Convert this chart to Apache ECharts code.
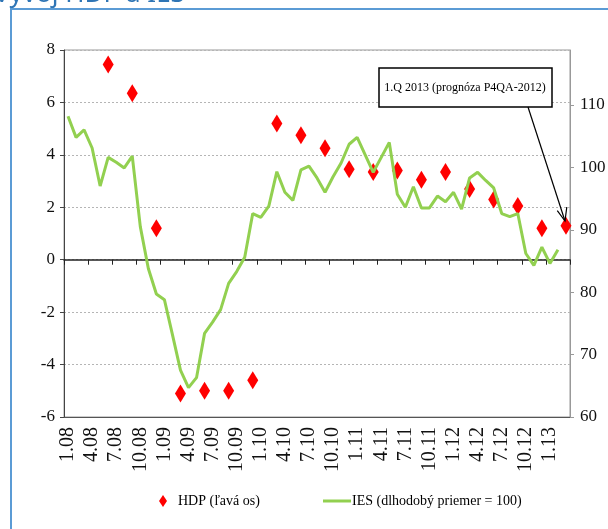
<!DOCTYPE html>
<html>
<head>
<meta charset="utf-8">
<title>Vývoj HDP a IES</title>
<script src="https://cdn.jsdelivr.net/npm/echarts@6/dist/echarts.min.js"></script>
<style>
  html, body { margin: 0; padding: 0; background: #fff; }
  #chart { width: 608px; height: 529px; }
</style>
</head>
<body>
<div id="chart"></div>
<script>
// mesiace 1.08 .. 3.13 (kategórie osi x)
const months = [
  '1.08', '2.08', '3.08', '4.08', '5.08', '6.08', '7.08', '8.08', '9.08', '10.08', '11.08', '12.08',
  '1.09', '2.09', '3.09', '4.09', '5.09', '6.09', '7.09', '8.09', '9.09', '10.09', '11.09', '12.09',
  '1.10', '2.10', '3.10', '4.10', '5.10', '6.10', '7.10', '8.10', '9.10', '10.10', '11.10', '12.10',
  '1.11', '2.11', '3.11', '4.11', '5.11', '6.11', '7.11', '8.11', '9.11', '10.11', '11.11', '12.11',
  '1.12', '2.12', '3.12', '4.12', '5.12', '6.12', '7.12', '8.12', '9.12', '10.12', '11.12', '12.12',
  '1.13', '2.13', '3.13'
]

// IES (dlhodobý priemer = 100), mesačne, pravá os
const ies = [
  108.2, 104.8, 106.0, 103.1, 97.0, 101.6, 100.8, 99.9, 101.8, 90.5, 83.8, 79.7,
  78.8, 73.2, 67.5, 64.7, 66.3, 73.4, 75.2, 77.2, 81.4, 83.3, 85.6, 92.6,
  92.0, 93.8, 99.3, 96.0, 94.7, 99.6, 100.2, 98.3, 96.0, 98.5, 100.7, 103.7,
  104.8, 102.0, 99.2, 101.6, 104.0, 95.7, 93.6, 96.9, 93.5, 93.5, 95.4, 94.5,
  96.0, 93.3, 98.3, 99.2, 97.9, 96.7, 92.6, 92.1, 92.6, 86.2, 84.3, 87.2,
  84.6, 86.8, null
]

// HDP (ľavá os), štvrťročne - bod v poslednom mesiaci štvrťroka
const quarterMonths = [
  '3.08', '6.08', '9.08', '12.08', '3.09', '6.09', '9.09', '12.09', '3.10', '6.10', '9.10',
  '12.10', '3.11', '6.11', '9.11', '12.11', '3.12', '6.12', '9.12', '12.12', '3.13'
]
const hdp = [
  null, 7.45, 6.35, 1.2, -5.1, -5.0, -5.0, -4.6, 5.2, 4.75, 4.25,
  3.45, 3.35, 3.4, 3.05, 3.35, 2.7, 2.3, 2.05, 1.2, 1.3
]

const leftTicks = [-6, 8, 2]     // min, max, interval
const rightTicks = [60, 118.8, 10]

const serif = "'Liberation Serif', 'Times New Roman', serif"

const hdpData = []
quarterMonths.forEach((m, i) => {
  if (hdp[i] !== null) hdpData.push([m, hdp[i]])
})

const chart = echarts.init(document.getElementById('chart'), null, { renderer: 'canvas' })

const option = {
  animation: false,
  backgroundColor: '#fff',
  grid: {
    left: 64,
    right: 38,
    top: 50,
    bottom: 112,
    show: true,
    borderColor: '#999',
    borderWidth: 1,
    outerBoundsMode: 'none'
  },
  legend: [
    {
      data: [{ name: 'HDP (ľavá os)', icon: 'diamond' }],
      left: 154,
      top: 489,
      itemWidth: 8,
      itemHeight: 12,
      itemGap: 0,
      symbolKeepAspect: false,
      textStyle: { fontFamily: serif, fontSize: 14, color: '#000', padding: [0, 0, 0, 6] }
    },
    {
      data: [{ name: 'IES (dlhodobý priemer = 100)', icon: 'rect' }],
      left: 318,
      top: 489,
      itemWidth: 28,
      itemHeight: 3,
      itemGap: 0,
      textStyle: { fontFamily: serif, fontSize: 14, color: '#000', padding: [0, 0, 0, -4] }
    }
  ],
  xAxis: [
    {
      // os v nule - čiara a značky
      type: 'category',
      data: months,
      boundaryGap: true,
      axisLine: { onZero: true, onZeroAxisIndex: 0, lineStyle: { color: '#222', width: 1.5 } },
      axisTick: { show: true, interval: 2, length: 5, inside: false, lineStyle: { color: '#222' } },
      axisLabel: { show: false },
      splitLine: { show: false }
    },
    {
      // popisy dole
      type: 'category',
      data: months,
      position: 'bottom',
      boundaryGap: true,
      axisLine: { onZero: false, lineStyle: { color: '#555', width: 1 } },
      axisTick: { show: false },
      axisLabel: {
        interval: 2,
        rotate: 90,
        margin: 10,
        fontFamily: serif,
        fontSize: 20,
        color: '#111'
      },
      splitLine: { show: false }
    }
  ],
  yAxis: [
    {
      type: 'value',
      min: leftTicks[0],
      max: leftTicks[1],
      interval: leftTicks[2],
      axisLine: { show: true, lineStyle: { color: '#444' } },
      axisTick: { show: true, length: 4, lineStyle: { color: '#444' } },
      axisLabel: { margin: 9, fontFamily: serif, fontSize: 17, color: '#111' },
      splitLine: { show: true, lineStyle: { color: '#b5b5b5', type: [2, 2], width: 1 } }
    },
    {
      type: 'value',
      position: 'right',
      min: rightTicks[0],
      max: rightTicks[1],
      interval: rightTicks[2],
      axisLine: { show: true, lineStyle: { color: '#999' } },
      axisTick: { show: true, length: 4, lineStyle: { color: '#999' } },
      axisLabel: { margin: 10, showMaxLabel: false, fontFamily: serif, fontSize: 17, color: '#111' },
      splitLine: { show: false }
    }
  ],
  series: [
    {
      name: 'HDP (ľavá os)',
      type: 'scatter',
      xAxisIndex: 0,
      yAxisIndex: 0,
      symbol: 'diamond',
      symbolSize: [11, 18],
      itemStyle: { color: '#ff0000', opacity: 1 },
      data: hdpData,
      z: 2
    },
    {
      name: 'IES (dlhodobý priemer = 100)',
      type: 'line',
      xAxisIndex: 0,
      yAxisIndex: 1,
      symbol: 'none',
      itemStyle: { color: '#92d050' },
      lineStyle: { color: '#92d050', width: 3 },
      data: ies,
      z: 3
    }
  ],
  graphic: {
    elements: [
      // modrý rámik a orezaný nadpis
      {
        type: 'polyline',
        shape: { points: [[11, 529], [11, 9], [608, 9]] },
        style: { stroke: '#5b9bd5', lineWidth: 2, fill: null },
        silent: true
      },
      {
        type: 'text',
        left: -6,
        top: -18,
        style: {
          text: 'Vývoj HDP a IES',
          font: '26px "Noto Sans", sans-serif',
          fill: '#2f75b5'
        },
        silent: true
      },
      // poznámka so šípkou
      {
        type: 'rect',
        shape: { x: 379, y: 68, width: 173, height: 39 },
        style: { fill: '#fff', stroke: '#000', lineWidth: 1.5 },
        z: 10
      },
      {
        type: 'text',
        x: 465,
        y: 88,
        style: {
          text: '1.Q 2013 (prognóza P4QA-2012)',
          font: '12px ' + serif,
          fill: '#000',
          align: 'center',
          verticalAlign: 'middle'
        },
        z: 11
      },
      {
        type: 'polyline',
        shape: { points: [[528, 107], [565, 221]] },
        style: { stroke: '#000', lineWidth: 1.2, fill: null },
        z: 10
      },
      {
        type: 'polyline',
        shape: { points: [[566.8, 207], [565, 221], [557.3, 210.6]] },
        style: { stroke: '#000', lineWidth: 1.2, fill: null },
        z: 10
      }
    ]
  }
}

chart.setOption(option)
</script>
</body>
</html>
